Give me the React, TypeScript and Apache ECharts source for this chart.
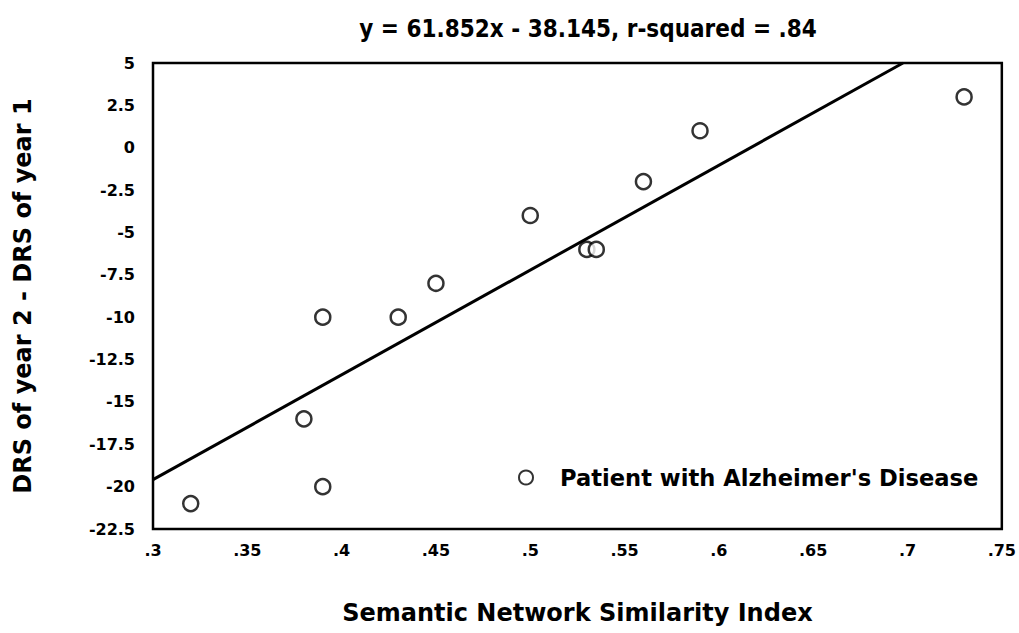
import React, { useEffect, useRef } from "react";
import * as echarts from "echarts";

const titleText = "y = 61.852x - 38.145, r-squared = .84";
const xAxisName = "Semantic Network Similarity Index";
const yAxisName = "DRS of year 2 - DRS of year 1";
const seriesName = "Patient with Alzheimer's Disease";

const similarity = [0.32, 0.38, 0.39, 0.39, 0.43, 0.45, 0.5, 0.53, 0.535, 0.56, 0.59, 0.73];
const drsChange = [-21, -16, -20, -10, -10, -8, -4, -6, -6, -2, 1, 3];

const slope = 61.852;
const intercept = -38.145;
const fitX = [0.3, 0.6976];

export default function App() {
  const ref = useRef<HTMLDivElement>(null);
  useEffect(() => {
    if (!ref.current) return;
    const chart = echarts.init(ref.current, undefined, { renderer: "svg" });
    const font = "'DejaVu Sans', 'Liberation Sans', Arial, sans-serif";
    const condensed = "'DejaVu Sans Condensed', 'DejaVu Sans', sans-serif";
    chart.setOption({
      animation: false,
      backgroundColor: "#fff",
      title: {
        text: titleText,
        left: 583,
        top: 12,
        textAlign: "center",
        textStyle: { fontFamily: condensed, fontWeight: "bold", fontSize: 24, color: "#000" },
      },
      grid: {
        left: 153,
        right: 16,
        top: 63,
        bottom: 104,
        show: true,
        borderColor: "#000",
        borderWidth: 2.5,
      },
      legend: {
        data: [{ name: seriesName, icon: "circle" }],
        left: 513,
        top: 461,
        itemWidth: 14,
        itemHeight: 14,
        textStyle: {
          fontFamily: font,
          fontWeight: "bold",
          fontSize: 22.6,
          color: "#000",
          padding: [0, 0, 0, 22],
        },
      },
      xAxis: {
        type: "value",
        min: 0.3,
        max: 0.75,
        interval: 0.05,
        name: xAxisName,
        nameLocation: "middle",
        nameGap: 72,
        nameTextStyle: { fontFamily: font, fontWeight: "bold", fontSize: 24, color: "#000" },
        axisLine: { show: false },
        axisTick: { show: false },
        splitLine: { show: false },
        axisLabel: {
          margin: 13,
          fontFamily: font,
          fontWeight: "bold",
          fontSize: 16,
          color: "#000",
          formatter: (v: number) => String(Number(v.toFixed(2))).replace(/^0/, ""),
        },
      },
      yAxis: {
        type: "value",
        min: -22.5,
        max: 5,
        interval: 2.5,
        name: yAxisName,
        nameLocation: "middle",
        nameGap: 118,
        nameRotate: 90,
        nameTextStyle: { fontFamily: font, fontWeight: "bold", fontSize: 24, color: "#000" },
        axisLine: { show: false },
        axisTick: { show: false },
        splitLine: { show: false },
        axisLabel: {
          margin: 18,
          fontFamily: font,
          fontWeight: "bold",
          fontSize: 16,
          color: "#000",
          formatter: (v: number) => String(Number(v.toFixed(1))),
        },
      },
      series: [
        {
          name: "fit",
          type: "line",
          showSymbol: false,
          symbol: "none",
          data: fitX.map((x) => [x, slope * x + intercept]),
          lineStyle: { color: "#000", width: 3 },
          silent: true,
          z: 2,
        },
        {
          name: seriesName,
          type: "scatter",
          symbol: "circle",
          symbolSize: 15,
          data: similarity.map((x, i) => [x, drsChange[i]]),
          itemStyle: { color: "#fff", borderColor: "#000", borderWidth: 2.5 },
          z: 3,
        },
      ],
    });
    return () => chart.dispose();
  }, []);
  return <div ref={ref} style={{ width: 1019, height: 633, position: "absolute", left: 0, top: 0 }} />;
}
